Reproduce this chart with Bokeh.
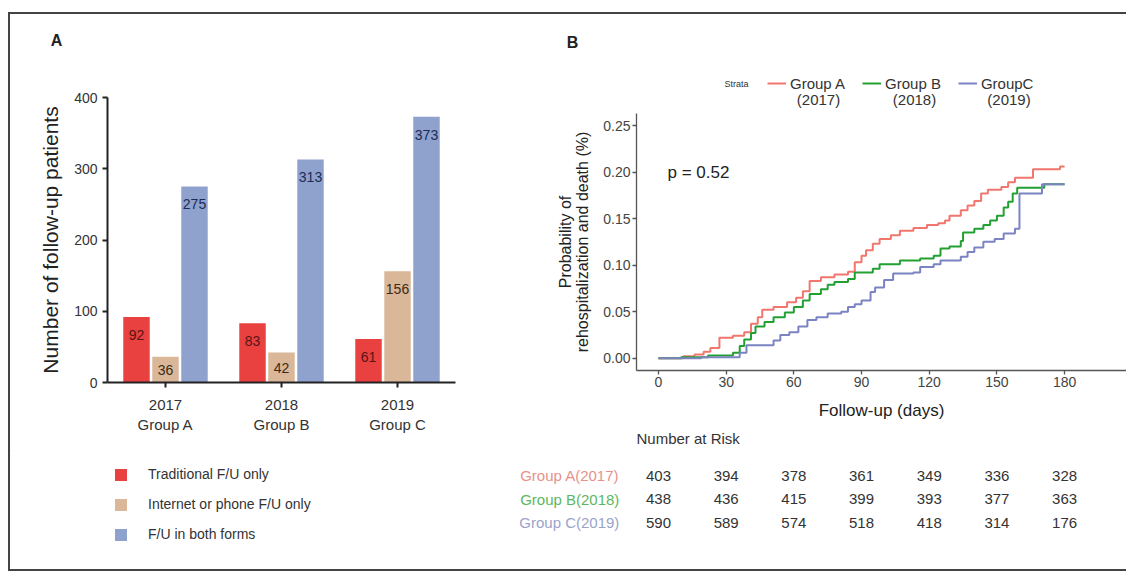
from bokeh.plotting import figure
from bokeh.models import (ColumnDataSource, FactorRange, Range1d, FixedTicker, Legend,
                          LegendItem, Label, NumeralTickFormatter)
from bokeh.transform import dodge
from bokeh.layouts import row, column
from bokeh.embed import file_html
from bokeh.resources import INLINE
from bokeh.core.properties import value

FONT = "Liberation Sans"

# ---------------- Panel A data ----------------
groups = ["2017\nGroup A", "2018\nGroup B", "2019\nGroup C"]
traditional = [92, 83, 61]
internet_phone = [36, 42, 156]
both_forms = [275, 313, 373]
series_names = ["Traditional F/U only", "Internet or phone F/U only", "F/U in both forms"]
series_colors = ["#e8413f", "#d9b798", "#8fa1cd"]
value_label_colors = ["#5a1414", "#3d2a16", "#1d2b55"]

# ---------------- Panel B data ----------------
timeA = [0, 11, 16, 20, 23, 27, 33, 38, 41, 44, 46, 51, 57, 61, 64, 67, 72, 78, 84, 87,
         90, 92, 95, 98, 103, 107, 113, 119, 124, 127, 129, 134, 137, 140, 143, 146,
         152, 155, 158, 166, 178, 180]
probA = [0, 0.002, 0.004, 0.007, 0.011, 0.022, 0.024, 0.028, 0.037, 0.044, 0.052, 0.055,
         0.060, 0.065, 0.072, 0.083, 0.087, 0.090, 0.093, 0.103, 0.110, 0.116, 0.123,
         0.128, 0.132, 0.137, 0.140, 0.143, 0.145, 0.148, 0.153, 0.159, 0.164, 0.169,
         0.177, 0.181, 0.184, 0.189, 0.194, 0.203, 0.206, 0.206]
timeB = [0, 10, 22, 33, 36, 38, 41, 43, 47, 51, 56, 60, 64, 67, 72, 75, 78, 84, 87, 95,
         98, 107, 116, 122, 125, 129, 134, 135, 140, 144, 147, 150, 153, 155, 157, 159,
         171, 180]
probB = [0, 0.001, 0.003, 0.006, 0.013, 0.020, 0.027, 0.034, 0.039, 0.044, 0.049, 0.055,
         0.062, 0.069, 0.074, 0.079, 0.082, 0.085, 0.092, 0.096, 0.101, 0.105, 0.107,
         0.110, 0.118, 0.120, 0.126, 0.135, 0.139, 0.143, 0.148, 0.153, 0.162, 0.168,
         0.177, 0.183, 0.187, 0.187]
timeC = [0, 19, 36, 39, 51, 54, 58, 62, 66, 70, 75, 81, 84, 87, 90, 94, 96, 100, 104, 113,
         116, 122, 125, 134, 137, 140, 144, 149, 153, 158, 160, 170, 180]
probC = [0, 0.001, 0.006, 0.014, 0.019, 0.025, 0.028, 0.034, 0.041, 0.044, 0.048, 0.050,
         0.055, 0.058, 0.062, 0.071, 0.076, 0.084, 0.091, 0.092, 0.098, 0.101, 0.105,
         0.109, 0.114, 0.119, 0.125, 0.128, 0.134, 0.139, 0.177, 0.187, 0.187]
strata_title = "Strata"
strata_names = ["Group A", "Group B", "GroupC"]
strata_years = ["(2017)", "(2018)", "(2019)"]
strata_colors = ["#f0766e", "#22a032", "#7b83c2"]
p_value_text = "p = 0.52"

risk_times = [0, 30, 60, 90, 120, 150, 180]
riskA = [403, 394, 378, 361, 349, 336, 328]
riskB = [438, 436, 415, 399, 393, 377, 363]
riskC = [590, 589, 574, 518, 418, 314, 176]
risk_labels = ["Group  A(2017)", "Group  B(2018)", "Group  C(2019)"]
risk_label_colors = ["#e8918b", "#5cb85f", "#9aa3c9"]

TXT = "#333333"
W_LEFT = 495
W_RIGHT = 621


def blank_fig(w, h):
    f = figure(width=w, height=h, x_range=Range1d(0, w), y_range=Range1d(h, 0),
               output_backend="svg", toolbar_location=None, x_axis_location=None,
               y_axis_location=None, min_border=0)
    f.xgrid.visible = False
    f.ygrid.visible = False
    f.outline_line_color = None
    return f


# ================= Panel A =================
hA = blank_fig(W_LEFT, 73)
hA.add_layout(Label(x=46, y=26, text="A", text_font=FONT, text_font_size="16px",
                    text_font_style="bold", text_align="center", text_baseline="middle",
                    text_color="#222222"))

pA = figure(width=W_LEFT, height=363, x_range=FactorRange(factors=groups, range_padding=0),
            y_range=Range1d(0, 400), output_backend="svg", toolbar_location=None,
            min_border_left=97, min_border_right=50, min_border_top=10, min_border_bottom=68)
pA.xgrid.visible = False
pA.ygrid.visible = False
pA.outline_line_color = None

srcA = {"g": groups}
cols = ["trad", "net", "both"]
for c, vals in zip(cols, [traditional, internet_phone, both_forms]):
    srcA[c] = vals
    srcA[c + "_txt"] = [str(v) for v in vals]
    srcA[c + "_ly"] = [v - min(25, v / 2) for v in vals]
sourceA = ColumnDataSource(srcA)

offsets = [-0.25, 0.0, 0.25]
for c, off, col, lc in zip(cols, offsets, series_colors, value_label_colors):
    pA.vbar(x=dodge("g", off, range=pA.x_range), top=c, width=0.228, source=sourceA,
            fill_color=col, line_color=None)
    pA.text(x=dodge("g", off, range=pA.x_range), y=c + "_ly", text=c + "_txt", source=sourceA,
            text_align="center", text_baseline="middle", text_font=value(FONT),
            text_font_size="14px", text_color=lc)

pA.yaxis.ticker = FixedTicker(ticks=[0, 100, 200, 300, 400])
for ax in (pA.xaxis[0], pA.yaxis[0]):
    ax.axis_line_width = 2
    ax.axis_line_color = "#222222"
    ax.major_tick_line_width = 2
    ax.major_tick_line_color = "#222222"
    ax.major_tick_in = 0
    ax.major_tick_out = 5
    ax.minor_tick_line_color = None
    ax.major_label_text_font = FONT
    ax.major_label_text_font_size = "14px"
    ax.major_label_text_color = TXT
pA.xaxis.major_label_text_font_size = "15px"
pA.yaxis.major_label_standoff = 5
pA.xaxis.major_label_standoff = 8
pA.yaxis.axis_label = "Number of follow-up patients"
pA.yaxis.axis_label_text_font = FONT
pA.yaxis.axis_label_text_font_size = "21px"
pA.yaxis.axis_label_text_font_style = "normal"
pA.yaxis.axis_label_text_color = "#222222"
pA.yaxis.axis_label_standoff = 9

# legend for panel A (swatches drawn from renderers whose data lie outside the visible range)
legA_fig = blank_fig(W_LEFT, 119)
swatch_bars = [legA_fig.vbar(x=[-500], top=[-500], bottom=[-510], width=1, fill_color=col,
                             line_color=None) for col in series_colors]
legA = Legend(items=[LegendItem(label=n, renderers=[r]) for n, r in zip(series_names, swatch_bars)],
              location=(103, 27), orientation="vertical", glyph_width=15, glyph_height=15,
              label_height=15, label_standoff=20, spacing=14, padding=0, margin=0,
              border_line_alpha=0, background_fill_alpha=0, label_text_font=FONT,
              label_text_font_size="14px", label_text_color=TXT)
legA_fig.add_layout(legA)

# ================= Panel B header (letter + strata legend) =================
hB = blank_fig(W_RIGHT, 99)
hB.add_layout(Label(x=67, y=28, text="B", text_font=FONT, text_font_size="16px",
                    text_font_style="bold", text_align="center", text_baseline="middle",
                    text_color="#222222"))
hB.add_layout(Label(x=219, y=69, text=strata_title, text_font=FONT, text_font_size="9px",
                    text_align="left", text_baseline="middle", text_color=TXT))
swatch_lines = [hB.line(x=[-500, -490], y=[-500, -500], line_color=col, line_width=2)
                for col in strata_colors]
legB = Legend(items=[LegendItem(label=s, renderers=[r]) for s, r in zip(strata_names, swatch_lines)],
              location=(262, 20), orientation="horizontal", glyph_width=19, glyph_height=20,
              label_height=20, label_standoff=4, spacing=17, padding=0, margin=0,
              border_line_alpha=0, background_fill_alpha=0, label_text_font=FONT,
              label_text_font_size="15px", label_text_color=TXT)
hB.add_layout(legB)
# second line of each strata label, centred under its group name
for yr, xc in zip(strata_years, [313, 409, 503.5]):
    hB.add_layout(Label(x=xc, y=85, text=yr, text_font=FONT, text_font_size="15px",
                        text_align="center", text_baseline="middle", text_color=TXT))

# ================= Panel B: KM curves =================
pKM = figure(width=W_RIGHT, height=315, x_range=Range1d(-9.75, 207.45),
             y_range=Range1d(-0.0132, 0.2629), output_backend="svg", toolbar_location=None,
             min_border_left=131, min_border_right=0, min_border_top=0, min_border_bottom=58)
pKM.xgrid.visible = False
pKM.ygrid.visible = False
pKM.outline_line_color = None

for t, pr, col in zip([timeA, timeB, timeC], [probA, probB, probC], strata_colors):
    pKM.step(x=t, y=pr, mode="after", line_color=col, line_width=2)

pKM.xaxis.ticker = FixedTicker(ticks=risk_times)
pKM.yaxis.ticker = FixedTicker(ticks=[0, 0.05, 0.10, 0.15, 0.20, 0.25])
pKM.yaxis.formatter = NumeralTickFormatter(format="0.00")
for ax in (pKM.xaxis[0], pKM.yaxis[0]):
    ax.axis_line_width = 1.3
    ax.axis_line_color = "#555555"
    ax.major_tick_line_color = "#555555"
    ax.major_tick_line_width = 1.3
    ax.major_tick_in = 0
    ax.major_tick_out = 4
    ax.minor_tick_line_color = None
    ax.major_label_text_font = FONT
    ax.major_label_text_font_size = "14px"
    ax.major_label_text_color = "#444444"
    ax.axis_label_text_font = FONT
    ax.axis_label_text_font_style = "normal"
    ax.axis_label_text_color = "#222222"
pKM.xaxis.major_label_standoff = 2
pKM.yaxis.major_label_standoff = 2
pKM.xaxis.axis_label = "Follow-up (days)"
pKM.xaxis.axis_label_text_font_size = "17px"
pKM.xaxis.axis_label_standoff = 11
pKM.yaxis.axis_label = "Probability of\nrehospitalization and death (%)"
pKM.yaxis.axis_label_text_font_size = "16px"
pKM.yaxis.axis_label_standoff = 9
try:
    pKM.yaxis.axis_label_text_line_height = 1.0
except Exception:
    pass

pKM.add_layout(Label(x=4, y=0.20, text=p_value_text, text_font=FONT, text_font_size="17px",
                     text_baseline="middle", text_align="left", text_color="#222222"))

# ================= Panel B: Number at risk table =================
pT = figure(width=W_RIGHT, height=141, x_range=Range1d(-67.82, 207.45), y_range=Range1d(5.0, -1.0),
            output_backend="svg", toolbar_location=None, x_axis_location=None,
            y_axis_location=None, min_border=0)
pT.xgrid.visible = False
pT.ygrid.visible = False
pT.outline_line_color = None

xs, ys, txts = [], [], []
for i, rk in enumerate([riskA, riskB, riskC]):
    for t, n in zip(risk_times, rk):
        xs.append(t)
        ys.append(i + 1)
        txts.append(str(n))
pT.text(x=xs, y=ys, text=txts, text_align="center", text_baseline="middle",
        text_font=value(FONT), text_font_size="15px", text_color="#333333")
pT.text(x=[-15.5] * 3, y=[1, 2, 3], text=risk_labels, text_align="right", text_baseline="middle",
        text_font=value(FONT), text_font_size="15px", text_color=risk_label_colors)
pT.add_layout(Label(x=-9.75, y=-0.574, text="Number at Risk", text_font=FONT, text_font_size="15px",
                    text_baseline="middle", text_align="left", text_color="#333333"))

left_col = column(row(hA), row(pA), row(legA_fig), spacing=0)
right_col = column(row(hB), row(pKM), row(pT), spacing=0)
layout = row(left_col, right_col, spacing=0,
             styles={"margin": "12px 0px 0px 8px",
                     "border-top": "2px solid #444444", "border-left": "2px solid #444444",
                     "border-bottom": "2px solid #444444", "background-color": "white"})

open("out.html", "w").write(file_html(layout, INLINE))
